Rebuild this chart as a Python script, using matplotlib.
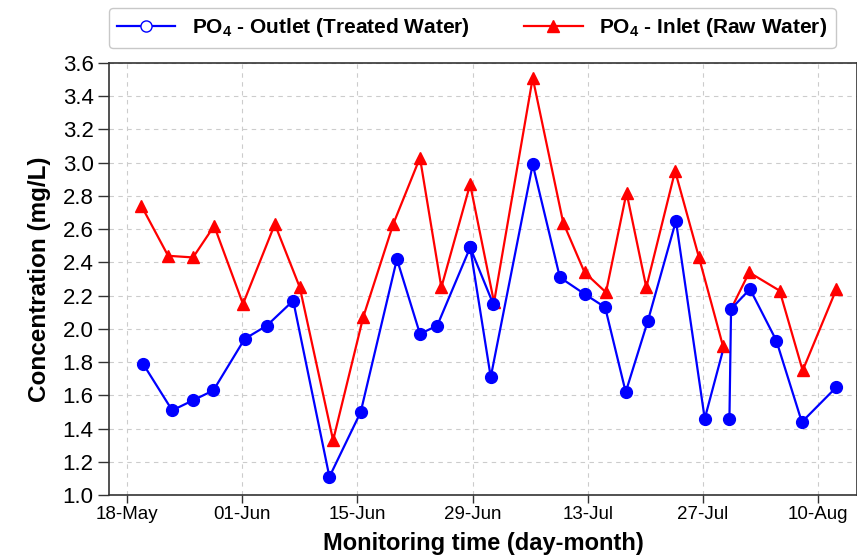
#!/usr/bin/env python3

import numpy as np
import matplotlib
matplotlib.use("Agg")
import matplotlib.pyplot as plt
from matplotlib.lines import Line2D

plt.rcParams['font.family'] = ['Liberation Sans', 'DejaVu Sans']
plt.rcParams['mathtext.fontset'] = 'custom'
plt.rcParams['mathtext.bf'] = 'Liberation Sans:bold'
plt.rcParams['mathtext.rm'] = 'Liberation Sans'

# days counted from 18 May
tick_days = [0, 14, 28, 42, 56, 70, 84]
tick_labels = ['18-May', '01-Jun', '15-Jun', '29-Jun', '13-Jul', '27-Jul', '10-Aug']

# outlet (treated water); nan = break in the line
out_days = [1.96, 5.5, 8.0, 10.5, 14.3, 17.0, 20.2, 24.6, 28.4, 32.8, 35.6, 37.7,
            41.7, 44.5, np.nan, 41.7, 44.2, 49.3, 52.6, 55.6, 58.1, 60.6, 63.3,
            66.7, 70.2, 72.3, np.nan, 73.2, 73.4, 75.7, 78.9, 82.0, 86.2]
out_vals = [1.79, 1.51, 1.57, 1.63, 1.94, 2.02, 2.17, 1.11, 1.50, 2.42, 1.97, 2.02,
            2.49, 2.15, np.nan, 2.49, 1.71, 2.99, 2.31, 2.21, 2.13, 1.62, 2.05,
            2.65, 1.46, 1.85, np.nan, 1.46, 2.12, 2.24, 1.93, 1.44, 1.65]

# inlet (raw water)
in_days = [1.76, 5.0, 8.03, 10.6, 14.1, 17.97, 21.0, 25.05, 28.7, 32.35, 35.6, 38.2,
           41.7, 44.6, 49.3, 53.0, 55.6, 58.2, 60.7, 63.1, 66.6, 69.5, 72.4,
           np.nan, 73.4, 75.6, 79.3, 82.1, 86.2]
in_vals = [2.74, 2.44, 2.43, 2.62, 2.15, 2.63, 2.25, 1.33, 2.07, 2.63, 3.03, 2.25,
           2.87, 2.16, 3.51, 2.64, 2.34, 2.22, 2.82, 2.25, 2.95, 2.43, 1.90,
           np.nan, 2.12, 2.34, 2.23, 1.75, 2.24]

fig = plt.figure(figsize=(8.57, 5.57), dpi=100)
ax = fig.add_axes([0.127, 0.111, 0.873, 0.776])

# the blue line stops under the red triangle at 27-Jul without its own dot
out_marks = [i for i in range(len(out_vals)) if i != 25]
in_marks = [i for i in range(len(in_vals)) if i != 24]
ax.plot(in_days, in_vals, color='#ff0000', lw=1.6, marker='^', ms=9,
        markeredgecolor='#ff0000', markevery=in_marks, zorder=3)
ax.plot(out_days, out_vals, color='#0000ff', lw=1.6, marker='o', ms=8.5,
        markeredgecolor='#0000ff', markevery=out_marks, zorder=4)

ax.set_xlim(-2.2, 88.7)
ax.set_ylim(1.0, 3.6)
ax.set_xticks(tick_days)
ax.set_xticklabels(tick_labels, fontsize=13.5)
ax.set_yticks(np.arange(1.0, 3.61, 0.2))
ax.set_yticklabels(['%.1f' % v for v in np.arange(1.0, 3.61, 0.2)], fontsize=16)
ax.tick_params(axis='y', direction='out', length=8, width=1, colors='#333333',
               labelcolor='black', pad=3)
ax.tick_params(axis='x', direction='out', length=6, width=1, colors='#333333',
               labelcolor='black', pad=2)
ax.grid(True, ls=(0, (4, 4)), color='#cccccc', lw=0.8)
ax.set_axisbelow(True)
for s in ax.spines.values():
    s.set_color('#333333')
    s.set_linewidth(1.2)

ax.set_xlabel('Monitoring time (day-month)', fontsize=17, fontweight='bold',
              labelpad=6)
ax.set_ylabel('Concentration (mg/L)', fontsize=17.5, fontweight='bold', labelpad=8)

handles = [
    Line2D([], [], color='#0000ff', lw=1.6, marker='o', ms=8,
           markerfacecolor='white', markeredgecolor='#0000ff'),
    Line2D([], [], color='#ff0000', lw=1.6, marker='^', ms=9,
           markeredgecolor='#ff0000'),
]
labels = [r'PO$_\mathbf{4}$ - Outlet (Treated Water)',
          r'PO$_\mathbf{4}$ - Inlet (Raw Water)']
fig.legend(handles, labels, loc='center', bbox_to_anchor=(0.551, 0.95), ncol=2,
           prop={'weight': 'bold', 'size': 15}, handlelength=2.8,
           columnspacing=2.6, frameon=True, edgecolor='#bbbbbb', fancybox=True)

fig.savefig('out.png', dpi=100)
